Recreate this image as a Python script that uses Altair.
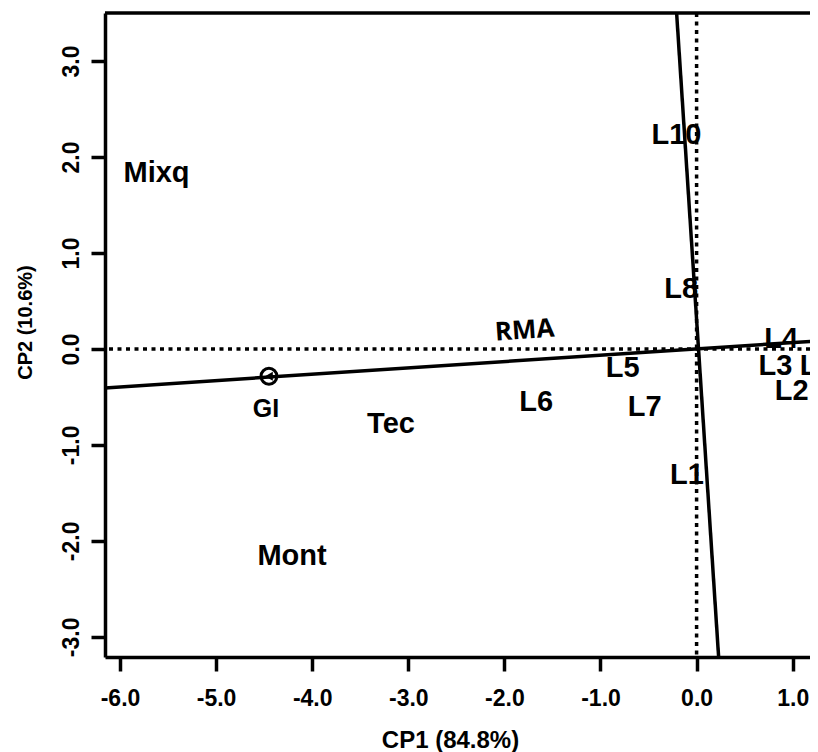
import altair as alt
import pandas as pd

# ---- data ----
lab_names = ["Mixq", "Tec", "Mont", "L10", "L8", "L5", "L4", "L3", "L9", "L2", "L6", "L7", "L1"]
lab_x = [-5.62, -3.18, -4.21, -0.21, -0.16, -0.77, 0.88, 0.82, 1.25, 0.99, -1.67, -0.54, -0.10]
lab_y = [1.83, -0.78, -2.16, 2.23, 0.62, -0.20, 0.10, -0.18, -0.18, -0.44, -0.55, -0.60, -1.31]

gi_name = ["GI"]
gi_label_x = [-4.48]
gi_label_y = [-0.63]
gi_point_x = [-4.45]
gi_point_y = [-0.285]

rma_name = ["RMA"]
rma_x = [-1.79]
rma_y = [0.19]

# solid axis lines (through the biplot origin)
line_a_x = [-6.3, 1.3]
line_a_y = [-0.416, 0.086]
line_b_x = [-0.2145, 0.235]
line_b_y = [3.6, -3.3]

x_ticks = [-6, -5, -4, -3, -2, -1, 0, 1]
y_ticks = [-3, -2, -1, 0, 1, 2, 3]

X_DOM = [-6.156, 1.18]
Y_DOM = [-3.21, 3.5]
W, H = 705, 644
FONT = "Liberation Sans"
LBL = "(datum.value < 0 ? '-' : '') + format(abs(datum.value), '.1f')"

labels_df = pd.DataFrame({"name": lab_names, "x": lab_x, "y": lab_y})
gi_df = pd.DataFrame({"name": gi_name, "x": gi_label_x, "y": gi_label_y})
gi_pt = pd.DataFrame({"x": gi_point_x, "y": gi_point_y})
rma_df = pd.DataFrame({"name": rma_name, "x": rma_x, "y": rma_y})
lines_df = pd.DataFrame({
    "x": line_a_x + line_b_x,
    "y": line_a_y + line_b_y,
    "g": ["a", "a", "b", "b"],
    "o": [0, 1, 0, 1],
})
zero_df = pd.DataFrame({"v": [0]})

xscale = alt.Scale(domain=X_DOM, nice=False, zero=False)
yscale = alt.Scale(domain=Y_DOM, nice=False, zero=False)

xaxis = alt.Axis(
    values=x_ticks, labelExpr=LBL, grid=False,
    labelFont=FONT, labelFontSize=23, labelFontWeight="bold", labelColor="black",
    labelFlush=False, labelOverlap=False, labelPadding=16,
    tickColor="black", tickWidth=3.5, tickSize=14,
    domainColor="black", domainWidth=3.5,
    title="CP1 (84.8%)", titleFont=FONT, titleFontSize=24, titleFontWeight="bold",
    titleColor="black", titleX=345, titleY=83, titleAlign="center", titleBaseline="middle",
)
yaxis = alt.Axis(
    values=y_ticks, labelExpr=LBL, grid=False,
    labelFont=FONT, labelFontSize=23, labelFontWeight="bold", labelColor="black",
    labelAngle=270, labelAlign="center", labelBaseline="alphabetic",
    labelFlush=False, labelOverlap=False, labelPadding=13,
    tickColor="black", tickWidth=3.5, tickSize=14,
    domainColor="black", domainWidth=3.5,
    title="CP2 (10.6%)", titleFont=FONT, titleFontSize=20, titleFontWeight="bold",
    titleColor="black", titleAngle=270, titleX=-80, titleY=309,
    titleAlign="center", titleBaseline="middle",
)

base_x = alt.X("x:Q", scale=xscale, axis=xaxis)
base_y = alt.Y("y:Q", scale=yscale, axis=yaxis)

solid = alt.Chart(lines_df).mark_line(color="black", strokeWidth=3.5, clip=True).encode(
    x=base_x, y=base_y, detail="g:N", order="o:Q"
)

hdot = alt.Chart(zero_df).mark_rule(color="black", strokeWidth=3.5, strokeDash=[4, 4.5]).encode(
    y=alt.Y("v:Q", scale=yscale)
)
vdot = alt.Chart(zero_df).mark_rule(color="black", strokeWidth=3.5, strokeDash=[4, 4.5]).encode(
    x=alt.X("v:Q", scale=xscale)
)

top_border = alt.Chart(zero_df).mark_rule(color="black", strokeWidth=3.5).encode(
    y=alt.value(0), x=alt.value(0), x2=alt.value(W)
)

text_big = alt.Chart(labels_df).mark_text(
    font=FONT, fontSize=29, fontWeight="bold", color="black",
    align="center", baseline="middle", clip=True,
).encode(x="x:Q", y="y:Q", text="name:N")

text_gi = alt.Chart(gi_df).mark_text(
    font=FONT, fontSize=25, fontWeight="bold", color="black",
    align="center", baseline="middle",
).encode(x="x:Q", y="y:Q", text="name:N")

text_rma = alt.Chart(rma_df).mark_text(
    font="Open Sans", fontSize=26, fontWeight="bold", color="black",
    align="center", baseline="middle", angle=356,
).encode(x="x:Q", y="y:Q", text="name:N")

gi_circle = alt.Chart(gi_pt).mark_point(
    shape="circle", size=250, filled=False, color="black", strokeWidth=3, opacity=1
).encode(x="x:Q", y="y:Q")
gi_arrow = alt.Chart(gi_pt).mark_point(
    shape="triangle-left", size=80, filled=True, color="black", opacity=1
).encode(x="x:Q", y="y:Q")

chart = alt.layer(
    solid, hdot, vdot, top_border, text_big, text_gi, text_rma, gi_circle, gi_arrow
).properties(
    width=W, height=H,
    autosize=alt.AutoSizeParams(type="none"),
    padding={"left": 97, "top": 5, "right": 0, "bottom": 96},
).configure_view(stroke="transparent").configure(background="white")

chart.save("out.html", embed_options={"renderer": "svg", "actions": False})
